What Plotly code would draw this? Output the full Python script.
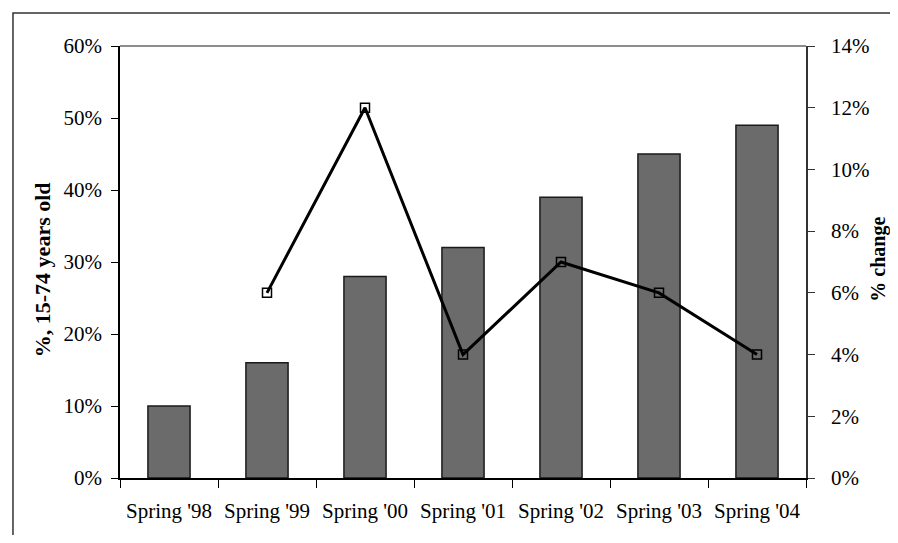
import plotly.graph_objects as go

categories = ["Spring '98", "Spring '99", "Spring '00", "Spring '01", "Spring '02", "Spring '03", "Spring '04"]
share_15_74 = [0.10, 0.16, 0.28, 0.32, 0.39, 0.45, 0.49]
pct_change = [None, 0.06, 0.12, 0.04, 0.07, 0.06, 0.04]

FONT = "Liberation Serif, Times New Roman, serif"

fig = go.Figure()
fig.add_trace(go.Bar(
    x=categories, y=share_15_74,
    marker=dict(color="#6b6b6b", line=dict(color="#1a1a1a", width=1.5)),
    yaxis="y", showlegend=False,
))
fig.add_trace(go.Scatter(
    x=categories, y=pct_change, yaxis="y2",
    mode="lines+markers",
    line=dict(color="black", width=3),
    marker=dict(symbol="square-open", size=9, color="black", line=dict(width=1.5)),
    showlegend=False,
))

fig.update_layout(
    width=890, height=527,
    margin=dict(l=112, r=92, t=38, b=57),
    paper_bgcolor="white", plot_bgcolor="white",
    bargap=0.57,
    font=dict(family=FONT, size=21, color="black"),
    xaxis=dict(
        showline=True, linecolor="black", linewidth=1.5,
        ticks="outside", ticklen=8, tickwidth=1, tickcolor="black",
        tickson="boundaries", showgrid=False, zeroline=False,
        tickfont=dict(family=FONT, size=21), ticklabelstandoff=13,
    ),
    yaxis=dict(
        range=[0, 0.6], dtick=0.1, tickformat=".0%",
        showline=True, linecolor="black", linewidth=1.5,
        ticks="outside", ticklen=7, tickcolor="black",
        showgrid=False, zeroline=False,
        tickfont=dict(family=FONT, size=21), ticklabelstandoff=5,
    ),
    yaxis2=dict(
        range=[0, 0.14], dtick=0.02, tickformat=".0%",
        overlaying="y", side="right",
        showline=True, linecolor="#333333", linewidth=1.5,
        ticks="outside", ticklen=7, tickcolor="#333333",
        showgrid=False, zeroline=False,
        tickfont=dict(family=FONT, size=21), ticklabelstandoff=12,
    ),
    shapes=[
        dict(type="line", xref="paper", yref="paper", x0=0, x1=1, y0=1, y1=1,
             line=dict(color="#8c8c8c", width=2)),
        dict(type="rect", xref="paper", yref="paper", x0=-0.156, x1=1.2, y0=-0.2, y1=1.0764,
             line=dict(color="#333333", width=1.5)),
    ],
    annotations=[
        dict(text="<b>%, 15-74 years old</b>", xref="paper", yref="paper",
             x=-0.1137, y=0.481, textangle=-90, showarrow=False,
             font=dict(family=FONT, size=22), xanchor="center", yanchor="middle"),
        dict(text="<b>% change</b>", xref="paper", yref="paper",
             x=1.106, y=0.507, textangle=-90, showarrow=False,
             font=dict(family=FONT, size=20), xanchor="center", yanchor="middle"),
    ],
)

fig.write_html("out.html")
